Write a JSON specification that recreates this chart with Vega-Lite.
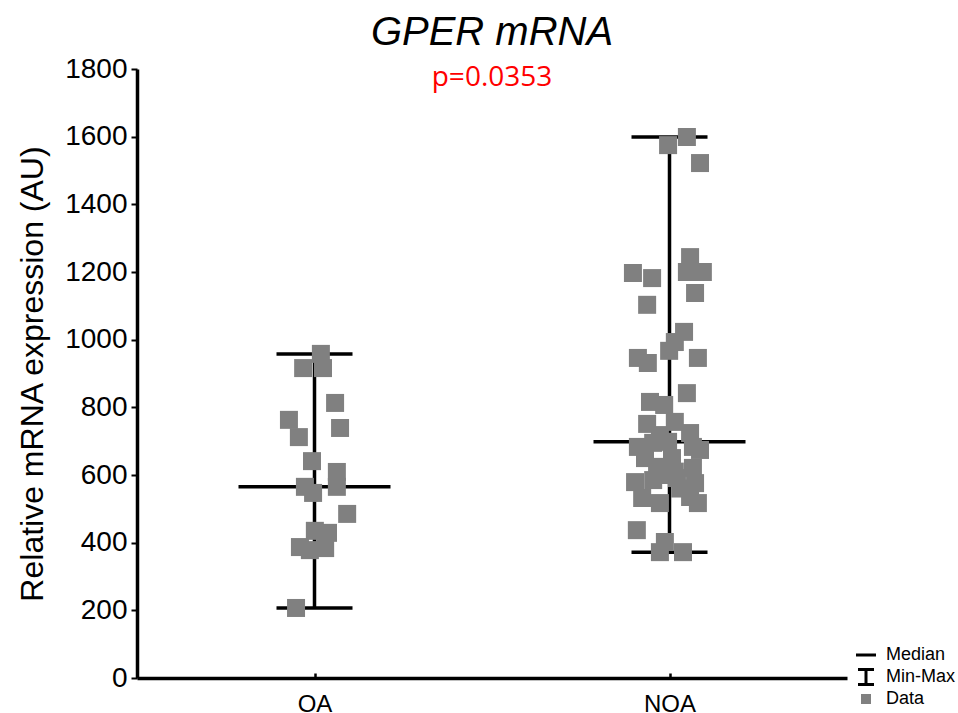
{
  "$schema": "https://vega.github.io/schema/vega-lite/v6.json",
  "width": 710,
  "height": 609,
  "autosize": {"type": "none"},
  "padding": {"left": 137, "top": 69, "right": 111, "bottom": 35},
  "background": "white",
  "config": {"view": {"stroke": null}, "font": "Liberation Sans"},
  "title": {
    "text": "GPER mRNA",
    "subtitle": "p=0.0353",
    "anchor": "middle",
    "font": "Liberation Sans",
    "fontSize": 40,
    "fontStyle": "italic",
    "fontWeight": "normal",
    "color": "black",
    "subtitleFont": "Open Sans",
    "subtitleFontSize": 28,
    "subtitleColor": "#ff0000",
    "subtitlePadding": 11,
    "offset": -37
  },
  "data": {
    "values": [
      {"group": "OA", "gx": 1, "pos": 1.018, "expr": 958},
      {"group": "OA", "gx": 1, "pos": 0.968, "expr": 916},
      {"group": "OA", "gx": 1, "pos": 1.024, "expr": 916},
      {"group": "OA", "gx": 1, "pos": 1.058, "expr": 813},
      {"group": "OA", "gx": 1, "pos": 0.928, "expr": 763},
      {"group": "OA", "gx": 1, "pos": 1.072, "expr": 739},
      {"group": "OA", "gx": 1, "pos": 0.956, "expr": 712},
      {"group": "OA", "gx": 1, "pos": 0.993, "expr": 641},
      {"group": "OA", "gx": 1, "pos": 1.063, "expr": 609},
      {"group": "OA", "gx": 1, "pos": 1.063, "expr": 565},
      {"group": "OA", "gx": 1, "pos": 0.973, "expr": 565},
      {"group": "OA", "gx": 1, "pos": 0.996, "expr": 547},
      {"group": "OA", "gx": 1, "pos": 1.092, "expr": 485},
      {"group": "OA", "gx": 1, "pos": 1.001, "expr": 435},
      {"group": "OA", "gx": 1, "pos": 1.038, "expr": 429},
      {"group": "OA", "gx": 1, "pos": 0.959, "expr": 387},
      {"group": "OA", "gx": 1, "pos": 0.987, "expr": 378},
      {"group": "OA", "gx": 1, "pos": 1.030, "expr": 384},
      {"group": "OA", "gx": 1, "pos": 0.948, "expr": 207},
      {"group": "NOA", "gx": 2, "pos": 2.049, "expr": 1599},
      {"group": "NOA", "gx": 2, "pos": 1.996, "expr": 1575},
      {"group": "NOA", "gx": 2, "pos": 2.086, "expr": 1522},
      {"group": "NOA", "gx": 2, "pos": 2.058, "expr": 1244},
      {"group": "NOA", "gx": 2, "pos": 1.897, "expr": 1197},
      {"group": "NOA", "gx": 2, "pos": 1.951, "expr": 1182},
      {"group": "NOA", "gx": 2, "pos": 2.049, "expr": 1200},
      {"group": "NOA", "gx": 2, "pos": 2.094, "expr": 1200},
      {"group": "NOA", "gx": 2, "pos": 2.072, "expr": 1138},
      {"group": "NOA", "gx": 2, "pos": 1.937, "expr": 1103},
      {"group": "NOA", "gx": 2, "pos": 2.041, "expr": 1023},
      {"group": "NOA", "gx": 2, "pos": 2.015, "expr": 993},
      {"group": "NOA", "gx": 2, "pos": 1.999, "expr": 967},
      {"group": "NOA", "gx": 2, "pos": 1.911, "expr": 946},
      {"group": "NOA", "gx": 2, "pos": 1.939, "expr": 931},
      {"group": "NOA", "gx": 2, "pos": 2.080, "expr": 946},
      {"group": "NOA", "gx": 2, "pos": 2.049, "expr": 842},
      {"group": "NOA", "gx": 2, "pos": 1.945, "expr": 816},
      {"group": "NOA", "gx": 2, "pos": 1.985, "expr": 807},
      {"group": "NOA", "gx": 2, "pos": 1.937, "expr": 751},
      {"group": "NOA", "gx": 2, "pos": 2.015, "expr": 757},
      {"group": "NOA", "gx": 2, "pos": 2.058, "expr": 724},
      {"group": "NOA", "gx": 2, "pos": 1.973, "expr": 718},
      {"group": "NOA", "gx": 2, "pos": 1.996, "expr": 698},
      {"group": "NOA", "gx": 2, "pos": 1.911, "expr": 683},
      {"group": "NOA", "gx": 2, "pos": 1.954, "expr": 695},
      {"group": "NOA", "gx": 2, "pos": 2.066, "expr": 683},
      {"group": "NOA", "gx": 2, "pos": 2.086, "expr": 674},
      {"group": "NOA", "gx": 2, "pos": 2.007, "expr": 650},
      {"group": "NOA", "gx": 2, "pos": 1.931, "expr": 650},
      {"group": "NOA", "gx": 2, "pos": 1.965, "expr": 624},
      {"group": "NOA", "gx": 2, "pos": 2.066, "expr": 621},
      {"group": "NOA", "gx": 2, "pos": 2.015, "expr": 610},
      {"group": "NOA", "gx": 2, "pos": 1.996, "expr": 600},
      {"group": "NOA", "gx": 2, "pos": 1.903, "expr": 579},
      {"group": "NOA", "gx": 2, "pos": 1.954, "expr": 585},
      {"group": "NOA", "gx": 2, "pos": 2.021, "expr": 591},
      {"group": "NOA", "gx": 2, "pos": 2.072, "expr": 576},
      {"group": "NOA", "gx": 2, "pos": 2.030, "expr": 560},
      {"group": "NOA", "gx": 2, "pos": 1.923, "expr": 532},
      {"group": "NOA", "gx": 2, "pos": 1.973, "expr": 517},
      {"group": "NOA", "gx": 2, "pos": 2.058, "expr": 535},
      {"group": "NOA", "gx": 2, "pos": 2.080, "expr": 517},
      {"group": "NOA", "gx": 2, "pos": 1.908, "expr": 437},
      {"group": "NOA", "gx": 2, "pos": 1.987, "expr": 402},
      {"group": "NOA", "gx": 2, "pos": 1.973, "expr": 372},
      {"group": "NOA", "gx": 2, "pos": 2.038, "expr": 372}
    ]
  },
  "layer": [
    {
      "transform": [{"aggregate": [{"op": "min", "field": "expr", "as": "lo"}, {"op": "max", "field": "expr", "as": "hi"}], "groupby": ["group", "gx"]}],
      "mark": {"type": "rule", "color": "black", "strokeWidth": 3.5},
      "encoding": {
        "x": {"field": "gx", "type": "quantitative", "scale": {"domain": [0.5, 2.5], "nice": false, "zero": false}},
        "y": {"field": "lo", "type": "quantitative", "scale": {"domain": [0, 1800], "nice": false}},
        "y2": {"field": "hi"}
      }
    },
    {
      "transform": [{"aggregate": [{"op": "min", "field": "expr", "as": "lo"}], "groupby": ["group", "gx"]}],
      "mark": {"type": "tick", "color": "black", "orient": "horizontal", "size": 76, "thickness": 3.5, "opacity": 1},
      "encoding": {
        "x": {"field": "gx", "type": "quantitative", "scale": {"domain": [0.5, 2.5], "nice": false, "zero": false}},
        "y": {"field": "lo", "type": "quantitative", "scale": {"domain": [0, 1800], "nice": false}}
      }
    },
    {
      "transform": [{"aggregate": [{"op": "max", "field": "expr", "as": "hi"}], "groupby": ["group", "gx"]}],
      "mark": {"type": "tick", "color": "black", "orient": "horizontal", "size": 76, "thickness": 3.5, "opacity": 1},
      "encoding": {
        "x": {"field": "gx", "type": "quantitative", "scale": {"domain": [0.5, 2.5], "nice": false, "zero": false}},
        "y": {"field": "hi", "type": "quantitative", "scale": {"domain": [0, 1800], "nice": false}}
      }
    },
    {
      "transform": [{"aggregate": [{"op": "median", "field": "expr", "as": "med"}], "groupby": ["group", "gx"]}],
      "mark": {"type": "tick", "color": "black", "orient": "horizontal", "size": 152, "thickness": 3.5, "opacity": 1},
      "encoding": {
        "x": {"field": "gx", "type": "quantitative", "scale": {"domain": [0.5, 2.5], "nice": false, "zero": false}},
        "y": {"field": "med", "type": "quantitative", "scale": {"domain": [0, 1800], "nice": false}}
      }
    },
    {
      "mark": {"type": "point", "filled": true, "opacity": 1, "size": 1296, "strokeWidth": 0},
      "encoding": {
        "x": {
          "field": "pos", "type": "quantitative",
          "scale": {"domain": [0.5, 2.5], "nice": false, "zero": false},
          "axis": {
            "title": null, "values": [1, 2],
            "labelExpr": "datum.value == 1 ? 'OA' : 'NOA'",
            "labelFont": "Liberation Sans", "labelFontSize": 24, "labelColor": "black",
            "labelPadding": 19, "tickSize": -5, "tickWidth": 2.5, "tickColor": "black",
            "domainColor": "black", "domainWidth": 3.5, "grid": false
          }
        },
        "y": {
          "field": "expr", "type": "quantitative",
          "scale": {"domain": [0, 1800], "nice": false},
          "axis": {
            "title": "Relative mRNA expression (AU)",
            "titleFont": "Liberation Sans", "titleFontSize": 32, "titleFontWeight": "normal", "titleColor": "black",
            "titlePadding": 15,
            "values": [0, 200, 400, 600, 800, 1000, 1200, 1400, 1600, 1800],
            "format": "d",
            "labelFont": "Liberation Sans", "labelFontSize": 28, "labelColor": "black",
            "labelPadding": 4, "tickSize": 6, "tickWidth": 2, "tickColor": "black",
            "domainColor": "black", "domainWidth": 3.5, "grid": false
          }
        },
        "color": {
          "datum": "Data",
          "scale": {"domain": ["Median", "Min-Max", "Data"], "range": ["black", "black", "#808080"]},
          "legend": {
            "title": null, "orient": "none", "legendX": 719, "legendY": 576,
            "symbolSize": 400, "symbolStrokeWidth": 0, "labelFont": "Liberation Sans",
            "labelFontSize": 18, "labelColor": "black", "labelOffset": 10, "rowPadding": 3, "padding": 0
          }
        },
        "shape": {
          "datum": "Data",
          "scale": {
            "domain": ["Median", "Min-Max", "Data"],
            "range": [
              "M-1,-0.15H1V0.15H-1Z",
              "M-0.8,-0.9H0.8V-0.6H0.15V0.6H0.8V0.9H-0.8V0.6H-0.15V-0.6H-0.8Z",
              "M-0.5,-0.5H0.5V0.5H-0.5Z"
            ]
          },
          "legend": {
            "title": null, "orient": "none", "legendX": 719, "legendY": 576,
            "symbolSize": 400, "symbolStrokeWidth": 0, "labelFont": "Liberation Sans",
            "labelFontSize": 18, "labelColor": "black", "labelOffset": 10, "rowPadding": 3, "padding": 0
          }
        }
      }
    }
  ]
}
